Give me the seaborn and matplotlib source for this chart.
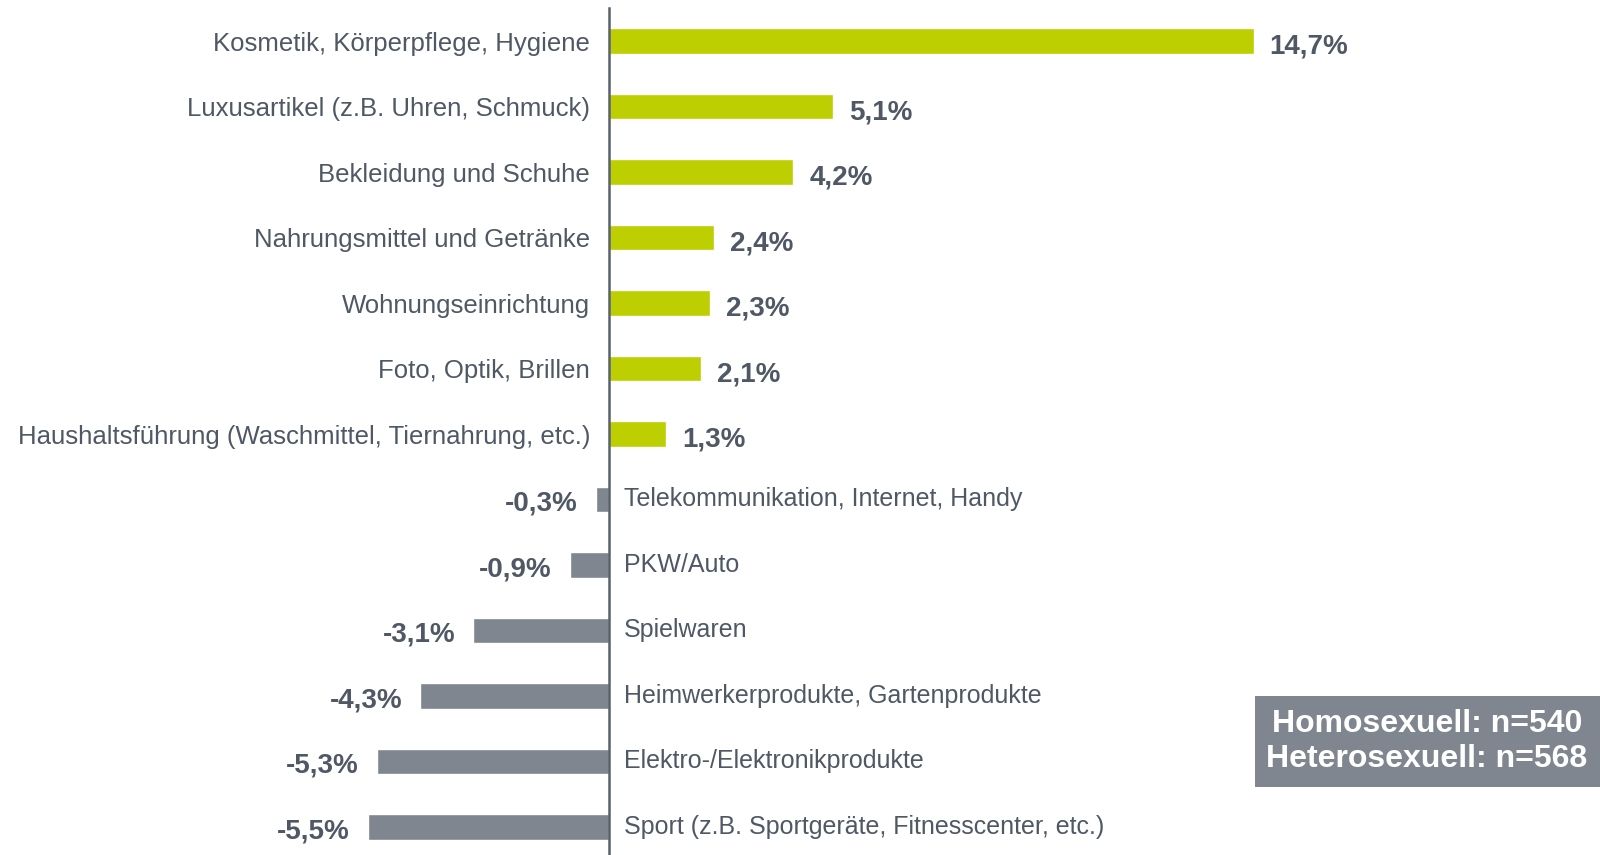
import pandas as pd
import matplotlib.pyplot as plt
import seaborn as sns
import numpy as np
from matplotlib.patches import Rectangle

# Data
categories = [
    'Kosmetik, Körperpflege, Hygiene',
    'Luxusartikel (z.B. Uhren, Schmuck)',
    'Bekleidung und Schuhe',
    'Nahrungsmittel und Getränke',
    'Wohnungseinrichtung',
    'Foto, Optik, Brillen',
    'Haushaltsführung (Waschmittel, Tiernahrung, etc.)',
    'Telekommunikation, Internet, Handy',
    'PKW/Auto',
    'Spielwaren',
    'Heimwerkerprodukte, Gartenprodukte',
    'Elektro-/Elektronikprodukte',
    'Sport (z.B. Sportgeräte, Fitnesscenter, etc.)',
]
values = [14.7, 5.1, 4.2, 2.4, 2.3, 2.1, 1.3, -0.3, -0.9, -3.1, -4.3, -5.3, -5.5]
box_lines = ['Homosexuell: n=540', 'Heterosexuell: n=568']

green = '#bdcf00'
grey = '#7f868f'
text_col = '#4f5864'

df = pd.DataFrame({'Kategorie': categories, 'Wert': values})
df['Richtung'] = np.where(df['Wert'] >= 0, 'pos', 'neg')

sns.set_style('white')
plt.rcParams['font.family'] = ['Liberation Sans', 'DejaVu Sans']

fig = plt.figure(figsize=(16, 8.55), dpi=100)
ax = fig.add_axes([0, 0, 1, 0.9904])

sns.barplot(data=df, y='Kategorie', x='Wert', hue='Richtung',
            palette={'pos': green, 'neg': grey}, dodge=False, saturation=1,
            width=0.39, legend=False, ax=ax, orient='h')

px = 43.85  # pixels per percent
ax.set_xlim(-609 / px, (1600 - 609) / px)
ax.set_ylim(12.43, -0.5)

for i, (cat, v) in enumerate(zip(categories, values)):
    lbl = f'{v:.1f}%'.replace('.', ',')
    if v >= 0:
        ax.text(-19 / px, i + 0.04, cat, ha='right', va='center', fontsize=18.5, color=text_col)
        ax.text(v + 16 / px, i + 0.09, lbl, ha='left', va='center', fontsize=20,
                fontweight='bold', color=text_col)
    else:
        ax.text(15 / px, i, cat, ha='left', va='center', fontsize=18, color=text_col)
        ax.text(v - 18 / px, i + 0.07, lbl, ha='right', va='center', fontsize=20,
                fontweight='bold', color=text_col)

# spine and ticks
for s in ['top', 'right', 'bottom']:
    ax.spines[s].set_visible(False)
ax.spines['left'].set_position(('data', 0))
ax.spines['left'].set_color('#59616b')
ax.spines['left'].set_linewidth(1.8)
ax.set_yticks([])
ax.set_yticks(np.arange(-0.5, 12.5, 1), minor=True)
ax.tick_params(axis='y', which='minor', length=4, width=1.5, color='#59616b',
               direction='out', labelleft=False)
ax.set_xticks([])
ax.set_xlabel('')
ax.set_ylabel('')

# sample size box
fig.patches.append(Rectangle((1255 / 1600, 1 - 787 / 855), 345 / 1600, 91 / 855,
                             transform=fig.transFigure, facecolor=grey,
                             edgecolor='none', zorder=5))
fig.text(1427 / 1600, 1 - 724 / 855, box_lines[0], ha='center', va='center',
         fontsize=23, fontweight='bold', color='white', zorder=6)
fig.text(1427 / 1600, 1 - 759 / 855, box_lines[1], ha='center', va='center',
         fontsize=23, fontweight='bold', color='white', zorder=6)

plt.savefig('out.png', dpi=100)
plt.close()
